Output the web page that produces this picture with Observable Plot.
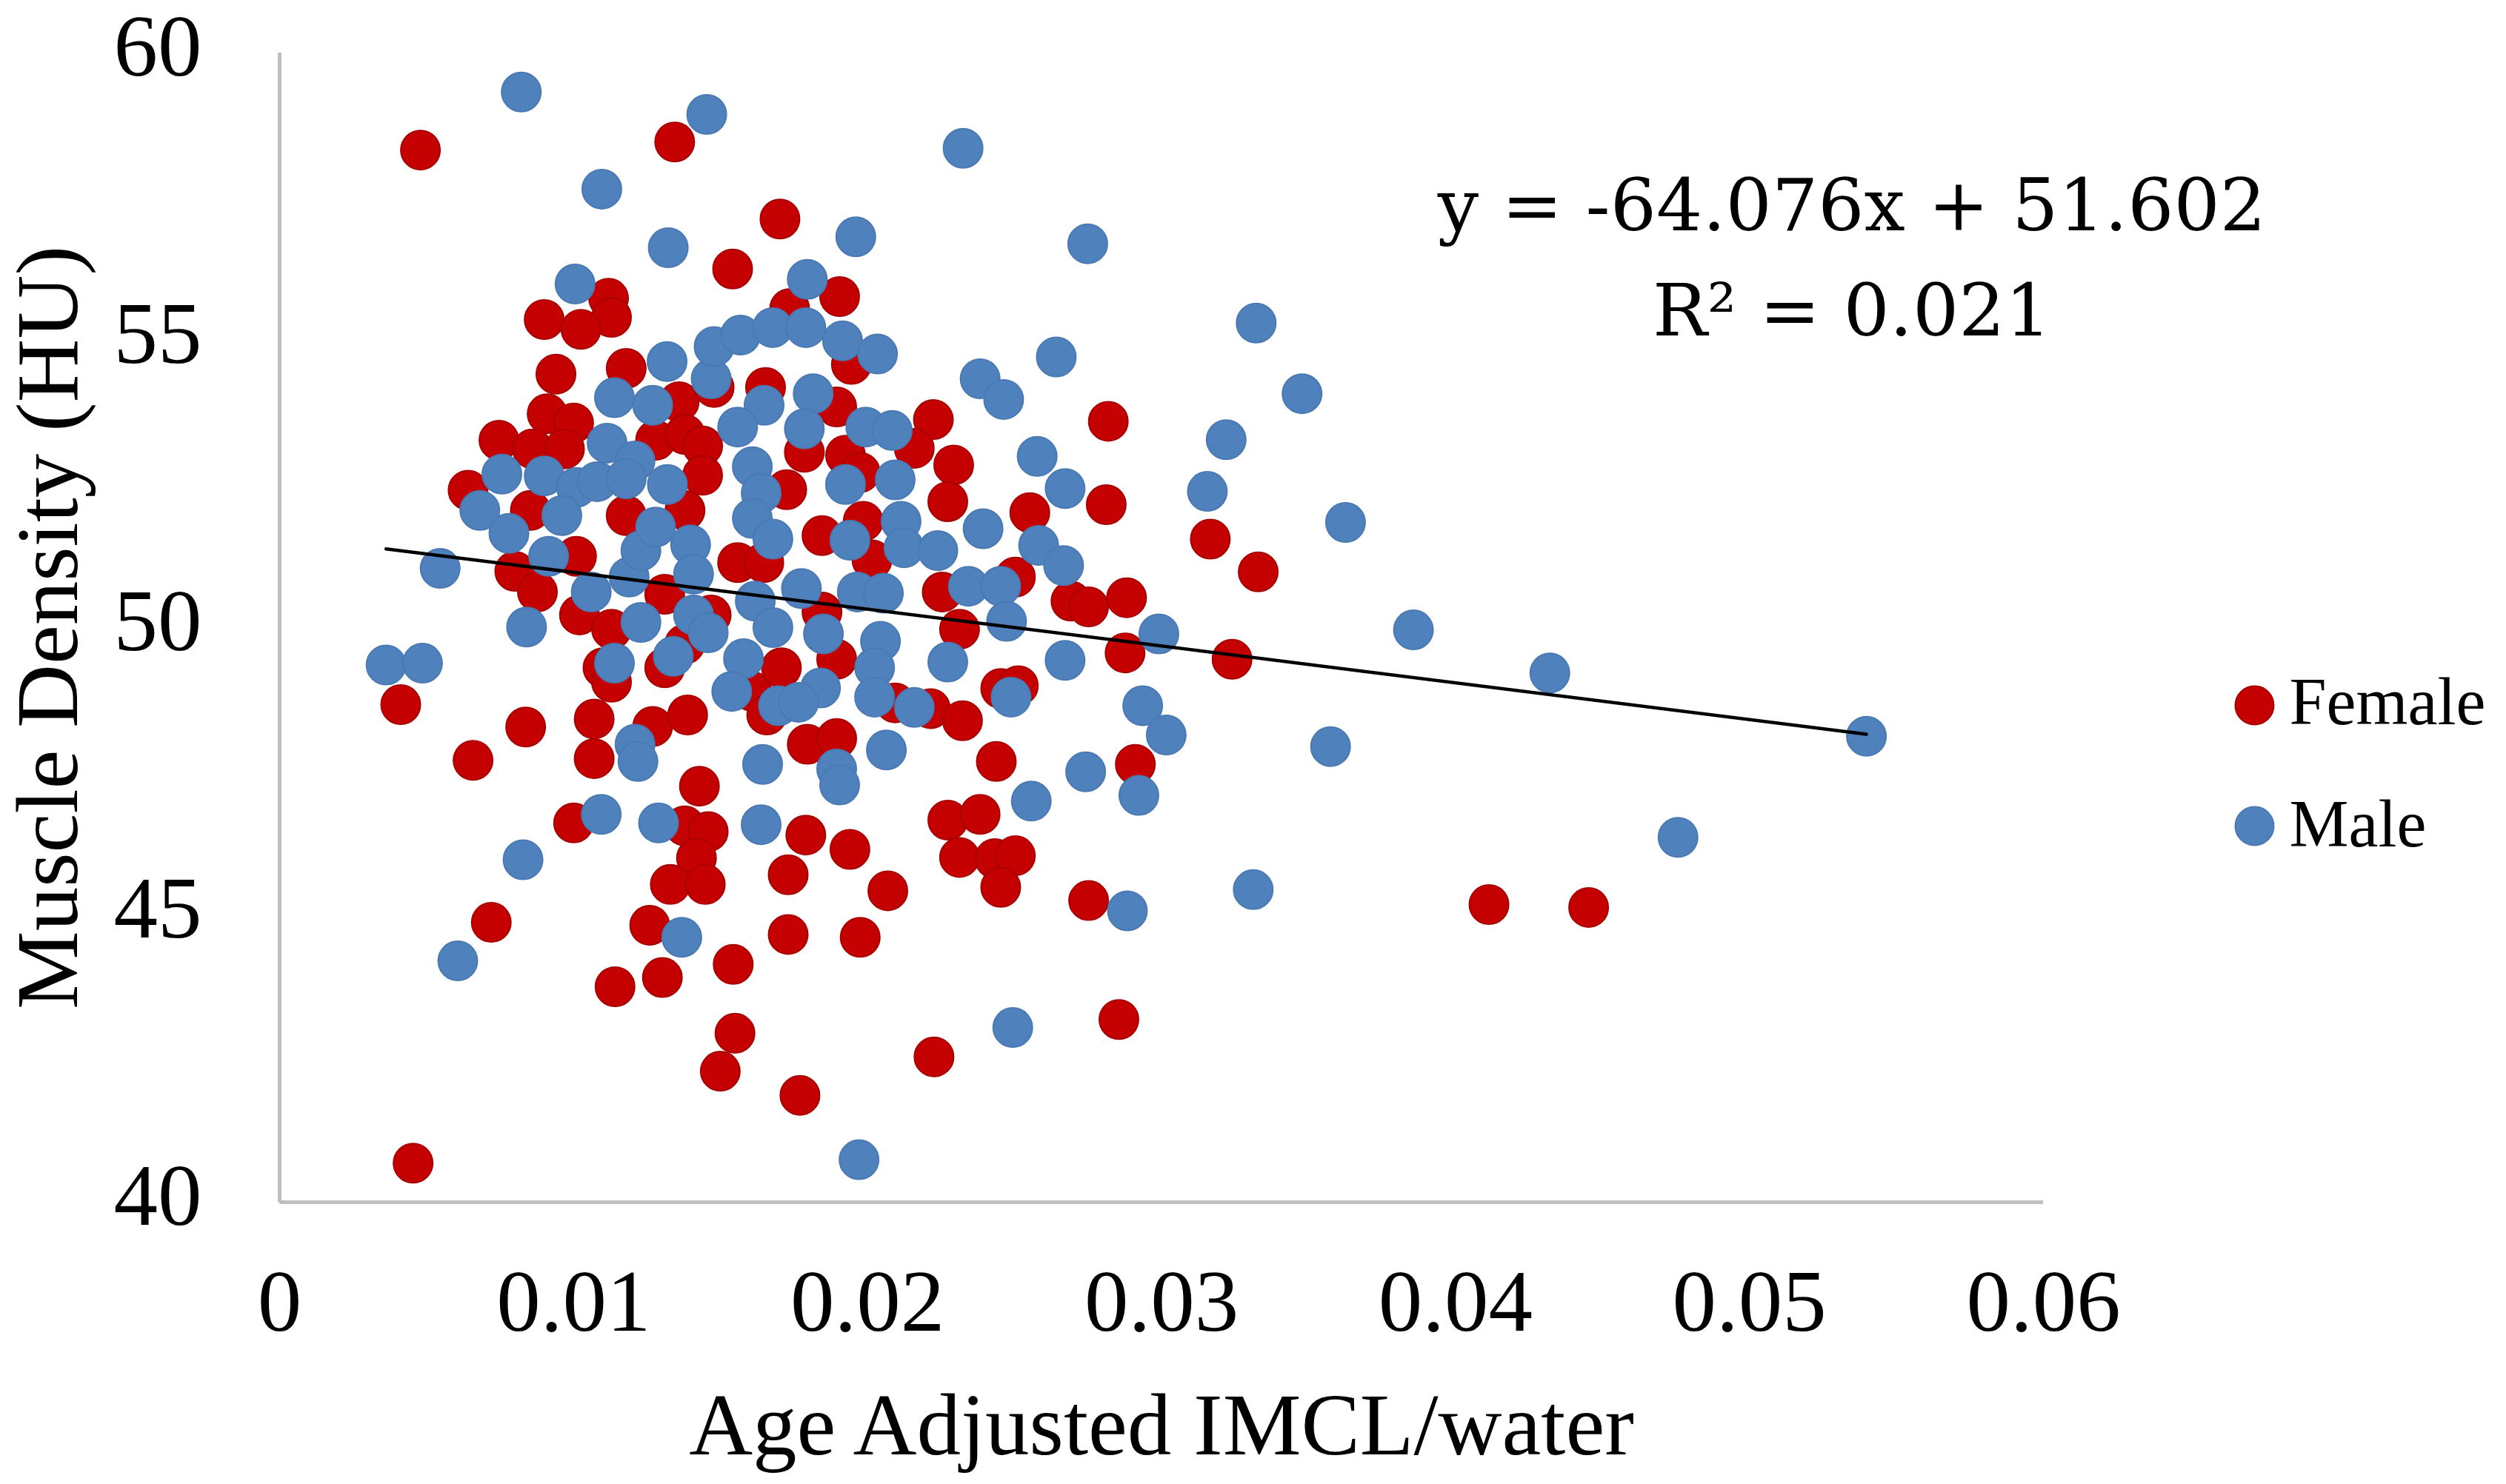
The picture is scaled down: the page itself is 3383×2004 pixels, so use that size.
<!DOCTYPE html>
<html>
<head>
<meta charset="utf-8">
<script src="https://cdn.jsdelivr.net/npm/d3@7"></script>
<script src="https://cdn.jsdelivr.net/npm/@observablehq/plot@0.6"></script>
<style>
  html, body { margin: 0; padding: 0; background: #ffffff; overflow: hidden; }
  #chart svg { display: block; }
</style>
</head>
<body>
<div id="chart"></div>
<script>
// ---- Data ----
const femaleX = [
  0.00479, 0.01344, 0.01702, 0.01541, 0.01119, 0.01129, 0.00900, 0.01025, 0.00940, 0.01179,
  0.01359, 0.01478, 0.01653, 0.00910, 0.01000, 0.00746, 0.00860, 0.00969, 0.01279, 0.01379,
  0.01439, 0.01439, 0.00641, 0.01379, 0.00853,
  0.01905, 0.01735, 0.01945, 0.01895, 0.02224, 0.02819, 0.01785, 0.01925, 0.02159, 0.02293,
  0.01725, 0.01975, 0.02273, 0.02812, 0.02552,
  0.00412, 0.00837, 0.00658, 0.01070, 0.01070, 0.01269, 0.01388, 0.01428, 0.01000, 0.01378,
  0.01458, 0.01418, 0.01329, 0.01448, 0.01259, 0.00720, 0.00800, 0.00877, 0.01010, 0.01020,
  0.01310, 0.01179, 0.01129, 0.01100, 0.01129, 0.01310, 0.01378, 0.01468, 0.01558, 0.01647,
  0.01607, 0.01657, 0.01707,
  0.01845, 0.01985, 0.03166, 0.02015, 0.02254, 0.02503, 0.02692, 0.02752, 0.02881, 0.02313,
  0.02876, 0.03240, 0.01895, 0.01845, 0.02094, 0.02214, 0.02323, 0.02453, 0.02513, 0.02911,
  0.02438, 0.01795, 0.01895, 0.02273, 0.02383, 0.02313, 0.02433, 0.02503, 0.02453, 0.02752,
  0.01790, 0.01940, 0.01730, 0.02069, 0.01730, 0.01975,
  0.01141, 0.01302, 0.01543, 0.01549, 0.01499, 0.01770, 0.02226, 0.02855, 0.00454,
  0.03329, 0.04114, 0.04453
];
const femaleY = [
  58.31, 58.45, 57.11, 56.24, 55.73, 55.40, 55.36, 55.19, 54.41, 54.51,
  53.93, 54.18, 54.18, 53.72, 53.56, 53.26, 53.11, 53.11, 53.26, 53.36,
  53.16, 52.65, 52.39, 52.04, 52.04,
  55.76, 55.55, 54.58, 53.84, 53.62, 53.59, 53.05, 53.00, 53.12, 52.83,
  52.40, 52.70, 52.19, 52.14, 52.00,
  48.66, 48.27, 47.69, 48.41, 47.72, 48.28, 48.48, 47.24, 46.60, 46.55,
  46.45, 45.99, 45.53, 45.53, 44.82, 44.87, 50.98, 50.62, 51.24, 50.22,
  50.58, 51.95, 49.97, 49.30, 49.05, 49.30, 49.71, 50.22, 51.13, 51.13,
  48.89, 48.48, 49.30,
  51.60, 51.85, 51.54, 51.18, 50.62, 50.88, 50.46, 50.36, 50.52, 49.97,
  49.56, 49.45, 49.45, 50.27, 48.69, 48.59, 48.38, 48.94, 48.99, 47.62,
  47.67, 47.97, 48.07, 46.65, 46.75, 46.00, 45.98, 46.03, 45.48, 45.25,
  46.39, 46.14, 45.70, 45.42, 44.66, 44.61,
  43.75, 43.91, 44.14, 42.94, 42.28, 41.86, 42.53, 43.18, 40.68,
  50.97, 45.18, 45.13
];
const maleX = [
  0.00822, 0.01453, 0.01096, 0.01322, 0.01005, 0.01318, 0.01139, 0.01269, 0.01468, 0.01478,
  0.01568, 0.01677, 0.01648, 0.01558, 0.01114, 0.01209, 0.00756, 0.00900, 0.01010, 0.01080,
  0.01179, 0.01319, 0.01608, 0.01638, 0.00681,
  0.02325, 0.01960, 0.02749, 0.01795, 0.01790, 0.01915, 0.02034, 0.02642, 0.02383, 0.02463,
  0.01815, 0.01785, 0.01994, 0.02084, 0.02577, 0.01925, 0.02094, 0.02672, 0.03156,
  0.00546, 0.00780, 0.00915, 0.00960, 0.01060, 0.01189, 0.01229, 0.01279, 0.01398, 0.01408,
  0.01608, 0.01678, 0.01618, 0.01678, 0.00840, 0.00362, 0.00486, 0.01229, 0.01139, 0.01339,
  0.01408, 0.01458, 0.01578, 0.01538, 0.01697, 0.01209, 0.01219, 0.01643, 0.01094, 0.01289,
  0.01638, 0.00828, 0.01368, 0.00606,
  0.01940, 0.02114, 0.02124, 0.02239, 0.02393, 0.02582, 0.02667, 0.01775, 0.01965, 0.02054,
  0.02343, 0.02453, 0.02473, 0.02991, 0.02672, 0.02273, 0.01850, 0.02044, 0.02024, 0.02024,
  0.01840, 0.01765, 0.02159, 0.02488, 0.02936, 0.03016, 0.02064, 0.01895, 0.01905, 0.02742,
  0.02923, 0.02557, 0.02884,
  0.02494, 0.01971,
  0.03322, 0.03478, 0.03220, 0.03626, 0.03857, 0.04321, 0.05398, 0.03575, 0.04757, 0.03312
];
const maleY = [
  59.32, 58.93, 57.63, 56.61, 55.98, 54.63, 54.00, 53.87, 54.33, 54.89,
  55.09, 55.22, 53.87, 53.49, 53.21, 52.90, 52.67, 52.64, 52.44, 52.54,
  52.59, 52.49, 52.80, 52.34, 52.04,
  58.34, 56.80, 56.68, 56.06, 55.22, 54.99, 54.76, 54.71, 54.33, 53.97,
  54.07, 53.46, 53.49, 53.43, 52.98, 52.49, 52.57, 52.42, 52.37,
  51.03, 51.64, 51.24, 51.95, 50.62, 50.88, 51.34, 51.75, 51.44, 50.93,
  51.90, 51.54, 50.46, 50.00, 50.01, 49.35, 49.38, 50.09, 49.38, 49.50,
  50.22, 49.91, 49.46, 48.89, 48.64, 47.97, 47.67, 47.62, 46.75, 46.60,
  46.57, 45.96, 44.61, 44.20,
  51.52, 51.85, 51.39, 51.34, 51.72, 51.43, 51.08, 50.68, 50.62, 50.60,
  50.72, 50.72, 50.11, 49.89, 49.43, 49.40, 49.89, 49.76, 49.30, 48.79,
  48.95, 48.70, 48.61, 48.79, 48.64, 48.13, 47.87, 47.54, 47.26, 47.49,
  47.08, 46.98, 45.07,
  43.04, 40.74,
  55.30, 54.07, 53.27, 51.83, 49.96, 49.21, 48.11, 47.93, 46.35, 45.44
];

const xTicks = [0, 0.01, 0.02, 0.03, 0.04, 0.05, 0.06];
const xTickLabels = ["0", "0.01", "0.02", "0.03", "0.04", "0.05", "0.06"];
const yTicks = [40, 45, 50, 55, 60];
const yTickLabels = ["40", "45", "50", "55", "60"];
const seriesNames = ["Female", "Male"];
const seriesColors = ["#C40000", "#4F81BD"];
const trendSlope = -64.076;
const trendIntercept = 51.602;
const equationLines = ["y = -64.076x + 51.602", "R\u00B2 = 0.021"];
const xTitle = "Age Adjusted IMCL/water";
const yTitle = "Muscle Density (HU)";

// ---- Build tables ----
const female = femaleX.map((x, i) => ({x, y: femaleY[i]}));
const male = maleX.map((x, i) => ({x, y: maleY[i]}));
const all = female.concat(male);
const [xmin, xmax] = d3.extent(all, d => d.x);
const trend = [xmin, xmax].map(x => ({x, y: trendSlope * x + trendIntercept}));
const xLab = new Map(xTicks.map((t, i) => [t, xTickLabels[i]]));
const yLab = new Map(yTicks.map((t, i) => [t, yTickLabels[i]]));

const serif = "'Liberation Serif', 'Times New Roman', serif";
const eqFont = "'DejaVu Serif', serif";

const chart = Plot.plot({
  width: 3383,
  height: 2004,
  marginLeft: 377,
  marginRight: 625,
  marginTop: 71,
  marginBottom: 381,
  x: {domain: [0, 0.06]},
  y: {domain: [40, 60]},
  style: {fontFamily: serif, background: "#ffffff", color: "#000000", overflow: "visible"},
  marks: [
    Plot.ruleX([0], {stroke: "#BFBFBF", strokeWidth: 5}),
    Plot.ruleY([40], {stroke: "#BFBFBF", strokeWidth: 5}),
    Plot.axisX({ticks: xTicks, tickFormat: d => xLab.get(d), tickSize: 0, tickPadding: 89, fontSize: 119, label: null}),
    Plot.axisY({ticks: yTicks, tickFormat: d => yLab.get(d), tickSize: 0, tickPadding: 105, fontSize: 119, label: null, dy: -8}),
    Plot.dot(female, {x: "x", y: "y", r: 26.5, fill: seriesColors[0], stroke: "#A80000", strokeWidth: 2}),
    Plot.dot(male, {x: "x", y: "y", r: 26.5, fill: seriesColors[1], stroke: "#4A79B3", strokeWidth: 2}),
    Plot.line(trend, {x: "x", y: "y", stroke: "#000000", strokeWidth: 4.5}),
    Plot.text([xTitle], {frameAnchor: "bottom", dy: 340, lineAnchor: "bottom", fontSize: 119}),
    Plot.text([yTitle], {frameAnchor: "left", rotate: -90, dx: -312, textAnchor: "middle", lineAnchor: "middle", fontSize: 119}),
    Plot.text([equationLines[0]], {frameAnchor: "top", dx: 932, dy: 239, lineAnchor: "bottom", fontFamily: eqFont, fontSize: 98}),
    Plot.text([equationLines[1]], {frameAnchor: "top", dx: 932, dy: 381, lineAnchor: "bottom", fontFamily: eqFont, fontSize: 98}),
    Plot.dot([seriesNames[0]], {frameAnchor: "right", dx: 285, dy: 105, r: 26, fill: seriesColors[0], stroke: "#A80000", strokeWidth: 2}),
    Plot.dot([seriesNames[1]], {frameAnchor: "right", dx: 285, dy: 268, r: 26, fill: seriesColors[1], stroke: "#4A79B3", strokeWidth: 2}),
    Plot.text([seriesNames[0]], {frameAnchor: "right", dx: 332, dy: 102, textAnchor: "start", lineAnchor: "middle", fontSize: 90}),
    Plot.text([seriesNames[1]], {frameAnchor: "right", dx: 332, dy: 267, textAnchor: "start", lineAnchor: "middle", fontSize: 90})
  ]
});
document.getElementById("chart").appendChild(chart);
</script>
</body>
</html>
